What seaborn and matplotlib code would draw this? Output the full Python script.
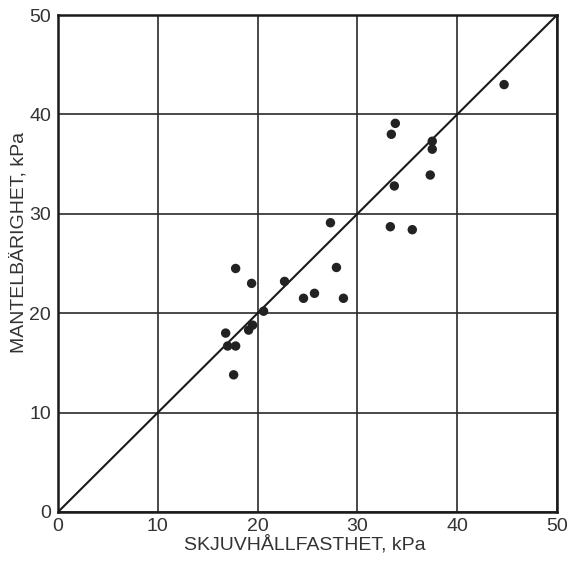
import matplotlib
matplotlib.use("Agg")
import matplotlib.pyplot as plt
import seaborn as sns
import pandas as pd

skjuv = [44.7, 33.8, 33.4, 37.5, 37.5, 37.3, 33.7, 27.3, 33.3, 35.5,
         17.8, 19.4, 22.7, 27.9, 25.7, 24.6, 28.6, 20.6, 19.5, 19.1,
         16.8, 17.0, 17.8, 17.6]
mantel = [43.0, 39.1, 38.0, 37.3, 36.5, 33.9, 32.8, 29.1, 28.7, 28.4,
          24.5, 23.0, 23.2, 24.6, 22.0, 21.5, 21.5, 20.2, 18.8, 18.3,
          18.0, 16.7, 16.7, 13.8]
line_x = [0, 50]
line_y = [0, 50]
ticks = [0, 10, 20, 30, 40, 50]

df = pd.DataFrame({"x": skjuv, "y": mantel})

sns.set_theme(style="white")
plt.rcParams["font.family"] = ["Liberation Sans", "DejaVu Sans"]

fig = plt.figure(figsize=(5.75, 5.61), dpi=100)
ax = fig.add_axes([58/575, 1 - 512/561, 499/575, 497/561])

ax.set_xlim(0, 50)
ax.set_ylim(0, 50)
ax.set_xticks(ticks)
ax.set_yticks(ticks)
ax.set_xticklabels([str(t) for t in ticks])
ax.set_yticklabels([str(t) for t in ticks])
ax.grid(True, color="#2a2a2a", linewidth=1.2)
ax.set_axisbelow(True)

sns.lineplot(x=line_x, y=line_y, ax=ax, color="#1a1a1a", linewidth=1.5)
sns.scatterplot(data=df, x="x", y="y", ax=ax, s=46, color="#222222",
                edgecolor="none", zorder=3)

for sp in ax.spines.values():
    sp.set_color("#1a1a1a")
    sp.set_linewidth(1.8)

ax.tick_params(axis="both", length=0, labelsize=14, colors="#333333", pad=4)
ax.tick_params(axis="y", pad=5)

ax.set_xlabel("SKJUVHÅLLFASTHET, kPa", fontsize=14, color="#333333")
ax.set_ylabel("MANTELBÄRIGHET, kPa", fontsize=14, color="#333333")
ax.xaxis.set_label_coords(0.495, -0.046)
ax.yaxis.set_label_coords(-0.062, 0.543)

fig.savefig("out.png", dpi=100, facecolor="white")
